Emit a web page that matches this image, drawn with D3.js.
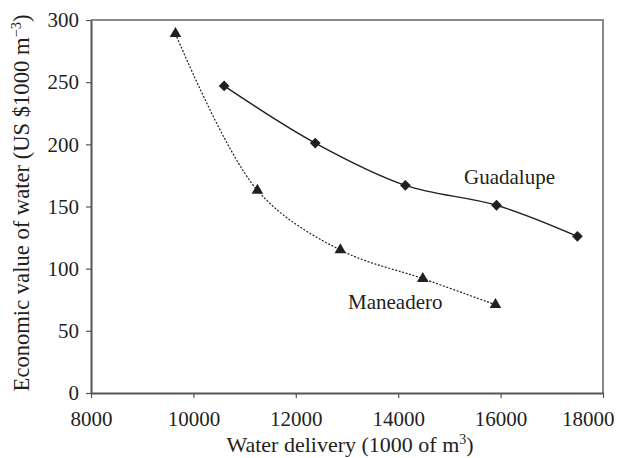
<!DOCTYPE html>
<html>
<head>
<meta charset="utf-8">
<script src="https://cdn.jsdelivr.net/npm/d3@7"></script>
<style>
  html, body { margin: 0; padding: 0; background: #fff; }
  svg { display: block; }
  svg text { font-family: 'Liberation Serif', 'Times New Roman', Times, 'DejaVu Serif', serif; fill: #231f20; }
</style>
</head>
<body>
<svg id="chart" width="618" height="458"></svg>
<script>
// Data
const guadalupeX = [10600, 12380, 14140, 15920, 17500];
const guadalupeY = [247, 201, 167, 151, 126];
const maneaderoX = [9650, 11250, 12870, 14480, 15900];
const maneaderoY = [289, 163, 115, 92, 71];
const xTicks = [8000, 10000, 12000, 14000, 16000, 18000];
const yTicks = [0, 50, 100, 150, 200, 250, 300];
const xDomain = [8000, 18000];
const yDomain = [0, 300];

const FONT = "'Liberation Serif', 'Times New Roman', Times, 'DejaVu Serif', serif";

const svg = d3.select("#chart");
const m = { left: 91, top: 20, right: 603, bottom: 393 };

const x = d3.scaleLinear().domain(xDomain).range([m.left, m.right]);
const y = d3.scaleLinear().domain(yDomain).range([m.bottom, m.top]);

// frame (top and right)
svg.append("path")
  .attr("d", `M${m.left},${m.top}H${m.right}V${m.bottom}`)
  .attr("fill", "none")
  .attr("stroke", "#8a8a8a")
  .attr("stroke-width", 2);

// axes
const xAxis = svg.append("g")
  .attr("transform", `translate(0,${m.bottom})`)
  .call(d3.axisBottom(x).tickValues(xTicks).tickFormat(d3.format("d")).tickSize(5).tickSizeOuter(0).tickPadding(13));
const yAxis = svg.append("g")
  .attr("transform", `translate(${m.left},0)`)
  .call(d3.axisLeft(y).tickValues(yTicks).tickFormat(d3.format("d")).tickSize(5).tickSizeOuter(0).tickPadding(7));

[xAxis, yAxis].forEach(g => {
  g.attr("font-family", FONT).attr("font-size", 21);
  g.select(".domain").attr("stroke", "#555").attr("stroke-width", 2);
  g.selectAll(".tick line").attr("stroke", "#555").attr("stroke-width", 1.2);
  g.selectAll(".tick text")
    .style("font-family", FONT)
    .attr("font-size", 21)
    .attr("fill", "#231f20");
});
// last x label is pulled inside the frame, as in the reference
xAxis.selectAll(".tick text")
  .filter(d => d === xDomain[1])
  .attr("text-anchor", "end")
  .attr("dx", 11);

// lines
const line = d3.line()
  .x(d => x(d[0]))
  .y(d => y(d[1]))
  .curve(d3.curveCatmullRom.alpha(0.5));

const gData = guadalupeX.map((v, i) => [v, guadalupeY[i]]);
const mData = maneaderoX.map((v, i) => [v, maneaderoY[i]]);

svg.append("path")
  .attr("d", line(mData))
  .attr("fill", "none")
  .attr("stroke", "#231f20")
  .attr("stroke-width", 1.2)
  .attr("stroke-dasharray", "2,1.6");

svg.append("path")
  .attr("d", line(gData))
  .attr("fill", "none")
  .attr("stroke", "#231f20")
  .attr("stroke-width", 1.4);

// markers
svg.selectAll(".diamond").data(gData).enter().append("path")
  .attr("class", "diamond")
  .attr("d", d3.symbol().type(d3.symbolSquare).size(58))
  .attr("transform", d => `translate(${x(d[0])},${y(d[1])}) rotate(45)`)
  .attr("fill", "#231f20");

svg.selectAll(".tri").data(mData).enter().append("path")
  .attr("class", "tri")
  .attr("d", d3.symbol().type(d3.symbolTriangle).size(58))
  .attr("transform", d => `translate(${x(d[0])},${y(d[1])})`)
  .attr("fill", "#231f20");

// series labels
svg.append("text").attr("x", 464).attr("y", 184).attr("font-size", 21).style("font-family", FONT).text("Guadalupe");
svg.append("text").attr("x", 348).attr("y", 309).attr("font-size", 21).style("font-family", FONT).text("Maneadero");

// axis titles
const xt = svg.append("text")
  .attr("x", 350)
  .attr("y", 452)
  .attr("text-anchor", "middle")
  .style("font-family", FONT)
  .attr("font-size", 22);
xt.append("tspan").text("Water delivery (1000 of m");
xt.append("tspan").attr("font-size", 14).attr("dy", -8).text("3");
xt.append("tspan").attr("dy", 8).text(")");

const yt = svg.append("text")
  .attr("transform", `translate(29,${203}) rotate(-90)`)
  .attr("text-anchor", "middle")
  .style("font-family", FONT)
  .attr("font-size", 22.6);
yt.append("tspan").text("Economic value of water (US $1000 m");
yt.append("tspan").attr("font-size", 14.5).attr("dy", -8).text("\u22123");
yt.append("tspan").attr("dy", 8).text(")");
</script>
</body>
</html>
